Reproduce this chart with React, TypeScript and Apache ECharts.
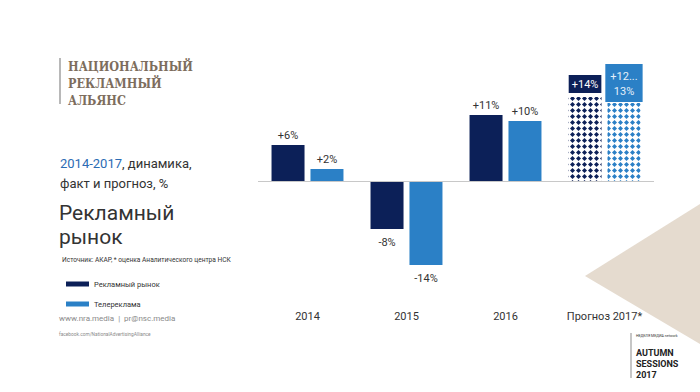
import React, { useEffect, useRef } from "react";
import * as echarts from "echarts";

const categories = ["2014", "2015", "2016", "Прогноз 2017*"];
const marketValues = [6, -8, 11, 14];
const tvValues = [2, -14, 10, 13];
const marketLabels = ["+6%", "-8%", "+11%", "+14%"];
const tvLabels = ["+2%", "-14%", "+10%", "+12...\n13%"];
const seriesNames = ["Рекламный рынок", "Телереклама"];

const DARK = "#0c2058";
const LIGHT = "#2b80c6";
const FONT = "Roboto, 'Noto Sans', sans-serif";

function buildData(values: number[], labels: string[], color: string, boxColor: string, boxText: string, forecastIndex: number) {
  return values.map((v, i) => {
    const pos = v >= 0 ? "top" : "bottom";
    if (i === forecastIndex) {
      return {
        value: v,
        itemStyle: {
          color: "#ffffff",
          decal: {
            symbol: "diamond",
            symbolSize: 1,
            dashArrayX: [4.4, 1],
            dashArrayY: [4.4, 0.9],
            rotation: 0,
            color: color,
          },
        },
        label: {
          show: true,
          position: pos,
          distance: labels[i].includes("\n") ? 1 : 4,
          formatter: labels[i],
          backgroundColor: boxColor,
          color: boxText,
          padding: labels[i].includes("\n") ? [5, 5, 3, 5] : [2, 3, 1, 3],
          lineHeight: 15,
          fontSize: 11,
          fontFamily: FONT,
        },
      };
    }
    return {
      value: v,
      label: {
        show: true,
        position: pos,
        distance: v >= 0 ? 4 : 8,
        formatter: labels[i],
        color: "#333333",
        fontSize: 11,
        fontFamily: FONT,
      },
    };
  });
}

export default function App() {
  const ref = useRef<HTMLDivElement>(null);
  useEffect(() => {
    document.body.style.margin = "0";
    if (!ref.current) return;
    const chart = echarts.init(ref.current, null, { renderer: "svg" });
    const textEl = (x: number, y: number, text: string, font: string, fill: string, extra: any = {}) => ({
      type: "text",
      x,
      y,
      z: 10,
      style: { text, font, fill, textVerticalAlign: "middle", ...extra },
    });
    const titleFont = "bold 12.5px 'DejaVu Serif Condensed', 'DejaVu Serif'";
    chart.setOption({
      animation: false,
      backgroundColor: "#ffffff",
      grid: { left: 258, right: 46, top: 61, bottom: 115 },
      legend: {
        orient: "vertical",
        left: 61,
        top: 275,
        itemWidth: 23,
        itemHeight: 5,
        itemGap: 12,
        icon: "rect",
        textStyle: { fontSize: 7.5, color: "#333", fontFamily: FONT },
        data: seriesNames,
        selectedMode: false,
      },
      xAxis: {
        type: "category",
        data: categories,
        axisLine: { show: false, onZero: false },
        axisTick: { show: false },
        axisLabel: { margin: 34, fontSize: 11, color: "#333", fontFamily: FONT },
      },
      yAxis: { type: "value", min: -16, max: 20, show: false },
      series: [
        {
          name: seriesNames[0],
          type: "bar",
          barWidth: 33,
          barGap: "18%",
          itemStyle: { color: DARK },
          data: buildData(marketValues, marketLabels, DARK, DARK, "#ffffff", 3),
          markLine: {
            silent: true,
            symbol: ["none", "none"],
            label: { show: false },
            lineStyle: { color: "#c8c8c8", width: 1, type: "solid" },
            data: [{ yAxis: 0 }],
          },
        },
        {
          name: seriesNames[1],
          type: "bar",
          barWidth: 33,
          barGap: "18%",
          itemStyle: { color: LIGHT },
          data: buildData(tvValues, tvLabels, LIGHT, LIGHT, "#e6f0fa", 3),
        },
      ],
      graphic: [
        {
          type: "polygon",
          z: -10,
          shape: { points: [[585, 276], [700, 204], [700, 344]] },
          style: { fill: "#e5dbcf" },
        },
        { type: "line", shape: { x1: 60, y1: 58, x2: 60, y2: 104 }, style: { stroke: "#a0a0a0", lineWidth: 1.5 } },
        textEl(68, 66, "НАЦИОНАЛЬНЫЙ", titleFont, "#7d6d5d"),
        textEl(68, 83, "РЕКЛАМНЫЙ", titleFont, "#7d6d5d"),
        textEl(68, 100, "АЛЬЯНС", titleFont, "#7d6d5d"),
        {
          type: "text",
          x: 60,
          y: 163,
          z: 10,
          style: {
            text: "{a|2014-2017}{b|, динамика,}",
            font: `13px ${FONT}`,
            textVerticalAlign: "middle",
            rich: {
              a: { fill: "#2b6cb4", font: `13px ${FONT}` },
              b: { fill: "#333333", font: `13px ${FONT}` },
            },
          },
        },
        textEl(60, 183, "факт и прогноз, %", `13px ${FONT}`, "#333333"),
        textEl(59, 213, "Рекламный", `21px ${FONT}`, "#333333"),
        textEl(59, 237, "рынок", `21px ${FONT}`, "#333333"),
        textEl(62, 260, "Источник: АКАР, * оценка Аналитического центра НСК", `6.6px ${FONT}`, "#333333"),
        textEl(59, 318, "www.nra.media  |  pr@nsc.media", `8px ${FONT}`, "#8a8a8a"),
        textEl(59, 334, "facebook.com/NationalAdvertisingAlliance", `4.8px ${FONT}`, "#8a8a8a"),
        { type: "line", shape: { x1: 631, y1: 333, x2: 631, y2: 378 }, style: { stroke: "#a0a0a0", lineWidth: 1.2 } },
        textEl(636, 336, "НЕДЕЛЯ МЕДИА network", `3.6px ${FONT}`, "#333333"),
        textEl(636, 353, "AUTUMN", `bold 9px ${FONT}`, "#222222"),
        textEl(636, 364, "SESSIONS", `bold 9px ${FONT}`, "#222222"),
        textEl(636, 375, "2017", `bold 9px ${FONT}`, "#222222"),
      ],
    });
    return () => chart.dispose();
  }, []);
  return <div ref={ref} style={{ width: 700, height: 392 }} />;
}
